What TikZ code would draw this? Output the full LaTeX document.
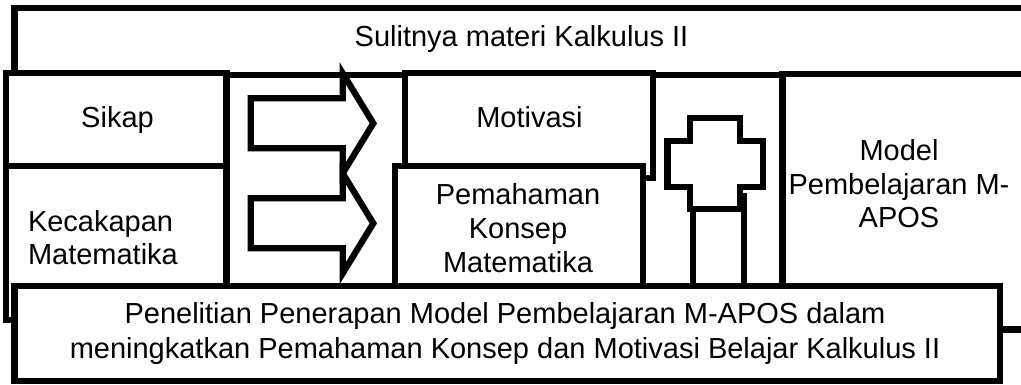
\documentclass[tikz,border=0pt]{standalone}
\usepackage{fontspec}
\setmainfont{Liberation Sans}
\begin{document}
\begin{tikzpicture}[x=1pt,y=-1pt,
  box/.style={draw=black, fill=white, line width=6.3pt, rectangle, inner sep=0pt, outer sep=0pt, anchor=north west},
  shapeline/.style={draw=black, fill=white, line width=6.3pt},
  txt/.style={font=\fontsize{29}{33.5}\selectfont, inner sep=0pt, outer sep=0pt, align=center, anchor=base},
  txtb/.style={font=\fontsize{29}{35}\selectfont, inner sep=0pt, outer sep=0pt, align=center, anchor=base}]
\useasboundingbox (0,0) rectangle (1021,385);
\fill[white] (0,0) rectangle (1021,385);
\clip (0,0) rectangle (1021,385);
% top box
\node[box, minimum width=1030.5pt, minimum height=67pt] (top) at (14.5,8) {};
% left boxes
\node[box, minimum width=220.5pt, minimum height=93pt] (sikap) at (6,73) {};
\node[box, minimum width=220.5pt, minimum height=154pt] (kec) at (6,166) {};
% block arrows
\draw[shapeline] (250.7,98.3) -- (342.7,98.3) -- (342.7,73.3) -- (373.3,123.3) -- (342.7,173.3) -- (342.7,148.3) -- (250.7,148.3) -- cycle;
\draw[shapeline] (250.7,198.3) -- (342.7,198.3) -- (342.7,173.3) -- (373.3,223.3) -- (342.7,273.3) -- (342.7,248.3) -- (250.7,248.3) -- cycle;
% middle boxes
\node[box, minimum width=248pt, minimum height=105pt] (motiv) at (405,73) {};
\node[box, minimum width=248pt, minimum height=134pt] (pemah) at (395,166) {};
% plus sign with stem
\node[box, minimum width=51pt, minimum height=104pt] (stem) at (693,196) {};
\draw[shapeline] (690,118.3) -- (740,118.3) -- (740,140.7) -- (763.3,140.7) -- (763.3,186.7) -- (740,186.7) -- (740,209.3) -- (690,209.3) -- (690,186.7) -- (667.5,186.7) -- (667.5,140.7) -- (690,140.7) -- cycle;
% model box
\node[box, minimum width=262.5pt, minimum height=255.5pt] (model) at (782.5,74) {};
% bottom box
\node[box, minimum width=985.5pt, minimum height=95pt] (bottom) at (14.5,286) {};
% texts (multi-line nodes: base anchor is the last line's baseline)
\node[txt] (ttop) at (521.5,47) {Sulitnya materi Kalkulus II};
\node[txt] (tsikap) at (117.5,128) {Sikap};
\node[txt, align=left, anchor=base west] (tkec) at (28,265) {Kecakapan\\Matematika};
\node[txt] (tmotiv) at (529.5,128) {Motivasi};
\node[txt] (tpemah) at (518,272) {Pemahaman\\Konsep\\Matematika};
\node[txt] (tmodel) at (899,228) {Model\\Pembelajaran M-\\APOS};
\node[txtb] (tbottom) at (505,358) {Penelitian Penerapan Model Pembelajaran M-APOS dalam\\meningkatkan Pemahaman Konsep dan Motivasi Belajar Kalkulus II};
\end{tikzpicture}
\end{document}
